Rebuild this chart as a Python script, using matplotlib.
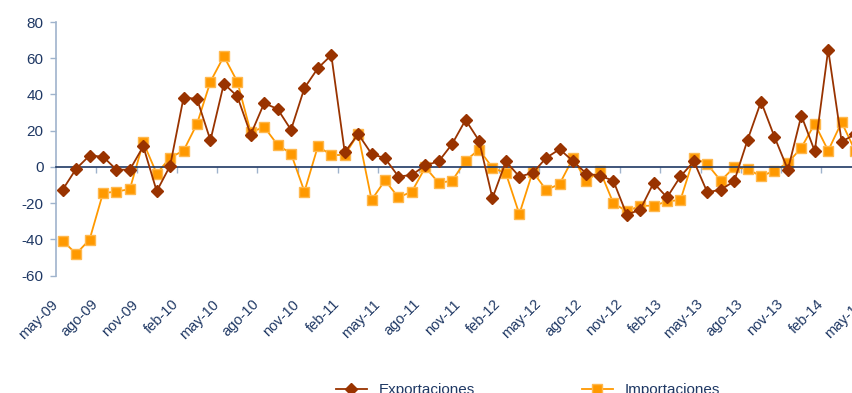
import matplotlib
matplotlib.use("Agg")
import matplotlib.pyplot as plt
from matplotlib.transforms import ScaledTranslation
import numpy as np

plt.rcParams['font.family'] = ['Liberation Sans', 'DejaVu Sans']
plt.rcParams['axes.unicode_minus'] = False

# monthly series, may-09 onwards (last month cut off in the source picture)
months = ['may-09', 'jun-09', 'jul-09', 'ago-09', 'sep-09', 'oct-09', 'nov-09', 'dic-09',
          'ene-10', 'feb-10', 'mar-10', 'abr-10', 'may-10', 'jun-10', 'jul-10', 'ago-10',
          'sep-10', 'oct-10', 'nov-10', 'dic-10', 'ene-11', 'feb-11', 'mar-11', 'abr-11',
          'may-11', 'jun-11', 'jul-11', 'ago-11', 'sep-11', 'oct-11', 'nov-11', 'dic-11',
          'ene-12', 'feb-12', 'mar-12', 'abr-12', 'may-12', 'jun-12', 'jul-12', 'ago-12',
          'sep-12', 'oct-12', 'nov-12', 'dic-12', 'ene-13', 'feb-13', 'mar-13', 'abr-13',
          'may-13', 'jun-13', 'jul-13', 'ago-13', 'sep-13', 'oct-13', 'nov-13', 'dic-13',
          'ene-14', 'feb-14', 'mar-14', 'abr-14', 'may-14']

exportaciones = [-12.5, -1, 6.3, 5.7, -1.5, -1.5, 11.4, -13.4, 0.7, 38.3, 37.6, 14.7,
                 46, 39, 17.9, 35.2, 32, 20.5, 43.6, 54.5, 61.7, 8.1, 18.2, 7.2,
                 4.8, -5.3, -4.4, 0.9, 3.1, 12.7, 26, 14.5, -17.2, 3.1, -5.3, -3.3,
                 5, 9.8, 3.2, -3.7, -4.8, -7.6, -26.3, -23.6, -8.8, -16.8, -5.2, 3.1,
                 -14, -12.5, -7.9, 15, 36.1, 16.6, -1.5, 28.4, 8.7, 64.8, 14, 18]

importaciones = [-40.7, -47.9, -40.1, -14.4, -13.6, -12.2, 13.6, -3.7, 5.2, 9, 23.8, 47.1,
                 61.1, 47.1, 19.1, 22.1, 12.2, 7.4, -13.6, 11.4, 6.6, 6.6, 18.2, -18.2,
                 -7.4, -16.8, -13.6, -0.2, -8.8, -7.6, 3.5, 9.6, -0.4, -3.5, -26, -2.6,
                 -12.7, -9.4, 4.9, -7.9, -2, -19.9, -24.5, -21.4, -21.4, -19, -18.2, 5.2,
                 1.5, -7.6, -0.2, -1.1, -5.2, -2, 2.2, 10.7, 23.8, 9, 24.7, 9]

navy = '#1F3864'

fig = plt.figure(figsize=(8.52, 3.93), dpi=100)
ax = fig.add_axes([56 / 852, 117.3 / 393, 819.2 / 852, 253.7 / 393])

x_exp = np.arange(len(exportaciones))
x_imp = np.arange(len(importaciones))

ax.plot(x_exp, exportaciones, color='#993300', lw=1.3, marker='D', ms=6,
        mec='#993300', mfc='#993300', label='Exportaciones', zorder=3)
ax.plot(x_imp, importaciones, color='#FF9900', lw=1.3, marker='s', ms=7,
        mec='#FFB84D', mfc='#FF9900', label='Importaciones', zorder=2)

ax.set_xlim(-0.5, len(months) - 0.5)
ax.set_ylim(-60, 80)
ax.set_yticks(np.arange(-60, 81, 20))

for s in ['top', 'right']:
    ax.spines[s].set_visible(False)
ax.spines['left'].set_color('#9FB3CC')
ax.spines['left'].set_linewidth(1.2)
ax.spines['bottom'].set_position(('data', 0))
ax.spines['bottom'].set_color(navy)
ax.spines['bottom'].set_linewidth(1.2)

# tick marks between categories on the zero line
ax.set_xticks(np.arange(2.5, len(months), 3))
ax.set_xticklabels([])
ax.tick_params(axis='x', direction='out', length=4, color='#9FB3CC', width=1)
ax.tick_params(axis='y', direction='out', length=4, color='#9FB3CC', width=1,
               labelcolor=navy, labelsize=11, pad=5)

# category labels at the bottom of the plot area
sec = ax.secondary_xaxis('bottom')
sec.spines['bottom'].set_visible(False)
sec.set_xticks(np.arange(0, len(months), 3))
sec.set_xticklabels(months[::3], rotation=45, ha='right', va='top',
                    rotation_mode='anchor', color=navy, fontsize=10.5)
sec.tick_params(axis='x', length=0, pad=6)
shift = ScaledTranslation(-0.12, -0.13, fig.dpi_scale_trans)
for lab in sec.get_xticklabels():
    lab.set_transform(lab.get_transform() + shift)

fig.legend(loc='center', bbox_to_anchor=(0.62, 0.008), ncol=2, frameon=False,
           fontsize=11, handlelength=2, columnspacing=7, labelcolor=navy)

fig.savefig('out.png', dpi=100)
